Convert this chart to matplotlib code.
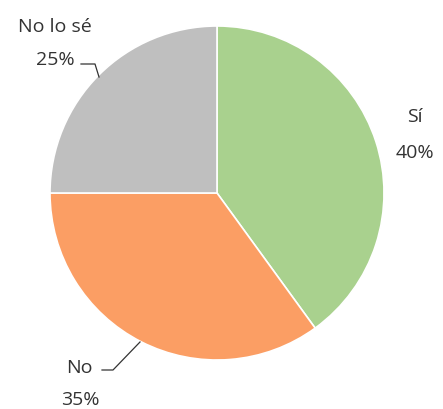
import matplotlib
matplotlib.use("Agg")
import matplotlib.pyplot as plt

# datos
categorias = ["Sí", "No", "No lo sé"]
valores = [40, 35, 25]
colores = ["#A9D18E", "#FB9E64", "#BFBFBF"]

plt.rcParams['font.family'] = ['Open Sans', 'DejaVu Sans']

fig = plt.figure(figsize=(4.43, 4.10), dpi=100)
ax = fig.add_axes([0, 0, 1, 1])

cx, cy, r = 217, 410 - 194, 167
ax.pie(valores, colors=colores, startangle=90, counterclock=False,
       center=(cx, cy), radius=r, frame=True,
       wedgeprops=dict(edgecolor='white', linewidth=1.2))
ax.set_xlim(0, 443)
ax.set_ylim(0, 410)
ax.set_aspect('auto')
ax.axis('off')

tc = '#333333'
fs = 14
# Sí
ax.text(415, 410 - 117, f"{categorias[0]}", ha='center', va='center', fontsize=fs, color=tc)
ax.text(415, 410 - 153, f"{valores[0]}%", ha='center', va='center', fontsize=fs, color=tc)
# No lo sé
ax.text(55, 410 - 27, f"{categorias[2]}", ha='center', va='center', fontsize=fs, color=tc)
ax.text(55, 410 - 60, f"{valores[2]}%", ha='center', va='center', fontsize=fs, color=tc)
ax.plot([81, 95, 99], [410 - 65, 410 - 65, 410 - 78], color=tc, lw=0.9)
# No
ax.text(79, 410 - 368, f"{categorias[1]}", ha='center', va='center', fontsize=fs, color=tc)
ax.text(80, 410 - 400, f"{valores[1]}%", ha='center', va='center', fontsize=fs, color=tc)
ax.plot([102, 113, 140], [410 - 371, 410 - 371, 410 - 343], color=tc, lw=0.9)

fig.savefig("out.png", dpi=100, facecolor='white')
